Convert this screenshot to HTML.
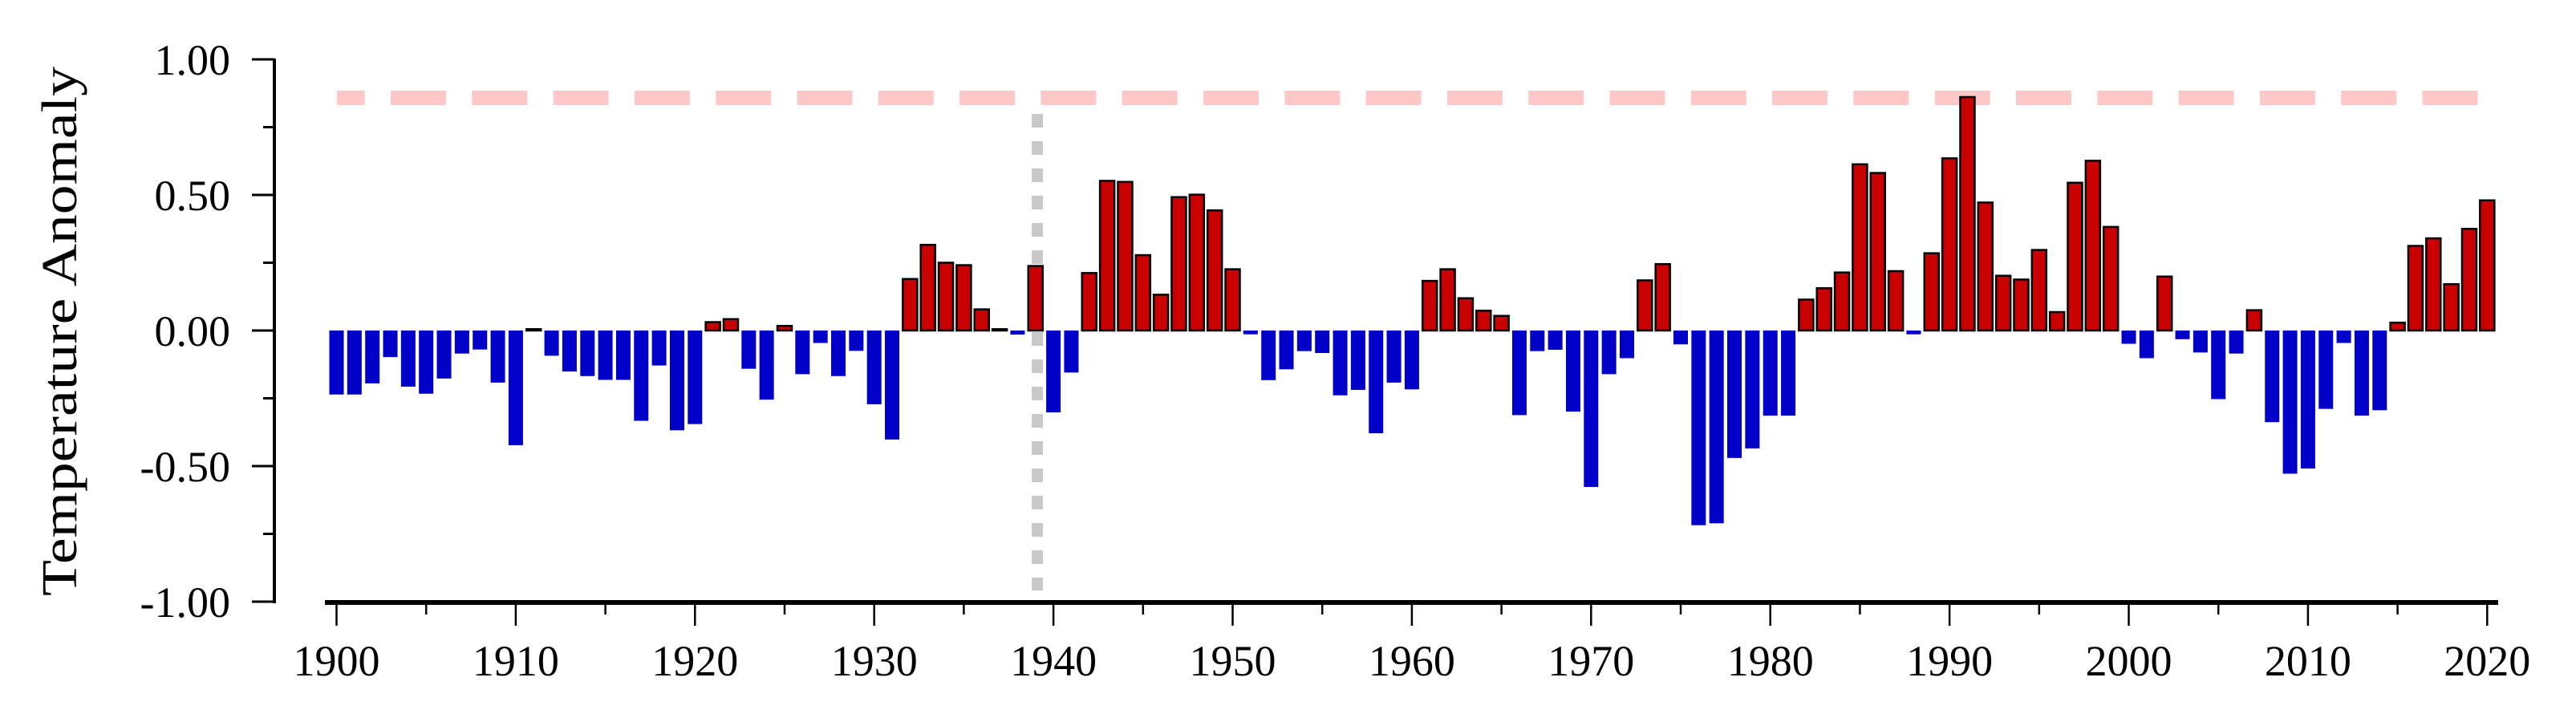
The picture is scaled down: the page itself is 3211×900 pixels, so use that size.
<!DOCTYPE html>
<html><head><meta charset="utf-8"><style>
html,body{margin:0;padding:0;background:#fff;}
svg{display:block;font-family:"Liberation Serif",serif;}
</style></head><body>
<svg id="chart" width="3211" height="900" viewBox="0 0 3211 900" xmlns="http://www.w3.org/2000/svg">
<line x1="420" y1="122" x2="3090" y2="122" stroke="#ffc8c8" stroke-width="18" stroke-dasharray="69 32.3" stroke-dashoffset="34.3"/>
<line x1="1293" y1="142" x2="1293" y2="736" stroke="#c8c8c8" stroke-width="14" stroke-dasharray="17 17"/>
<g id="bars"></g>
<g id="axes"></g>
<text transform="translate(95,413) rotate(-90)" text-anchor="middle" font-size="62" textLength="660" lengthAdjust="spacingAndGlyphs">Temperature Anomaly</text>
</svg>
<script>
const years = [];
for (let y = 1900; y <= 2020; y++) years.push(y);
const anomalies = [
-0.236,-0.236,-0.195,-0.098,-0.207,-0.233,-0.177,-0.085,-0.070,-0.192,
-0.423,0.005,-0.093,-0.151,-0.168,-0.182,-0.182,-0.333,-0.129,-0.368,
-0.345,0.031,0.042,-0.141,-0.255,0.017,-0.161,-0.046,-0.168,-0.075,
-0.272,-0.402,0.190,0.316,0.250,0.241,0.078,0.005,-0.015,0.238,
-0.302,-0.155,0.212,0.552,0.548,0.278,0.132,0.492,0.501,0.443,
0.226,-0.014,-0.183,-0.143,-0.076,-0.083,-0.239,-0.219,-0.379,-0.192,
-0.217,0.183,0.226,0.119,0.073,0.054,-0.312,-0.076,-0.071,-0.299,
-0.577,-0.161,-0.102,0.185,0.245,-0.051,-0.718,-0.711,-0.470,-0.435,
-0.314,-0.314,0.114,0.156,0.214,0.613,0.581,0.219,-0.014,0.285,
0.635,0.861,0.472,0.202,0.188,0.297,0.068,0.545,0.626,0.382,
-0.049,-0.102,0.199,-0.032,-0.081,-0.253,-0.085,0.075,-0.338,-0.528,
-0.509,-0.289,-0.046,-0.314,-0.294,0.029,0.312,0.340,0.171,0.375,
0.480];
const yTicks = [1.00, 0.50, 0.00, -0.50, -1.00];
const yTickLabels = ["1.00","0.50","0.00","-0.50","-1.00"];
const xTickYears = [1900,1910,1920,1930,1940,1950,1960,1970,1980,1990,2000,2010,2020];

const NS = "http://www.w3.org/2000/svg";
function xScale(yr){ return 419.5 + (yr - 1900) * 22.34; }
function yScale(v){ return 412 - v * 338; }
function mk(tag, attrs, parent){ const e = document.createElementNS(NS, tag); for (const k in attrs) e.setAttribute(k, attrs[k]); parent.appendChild(e); return e; }

const bars = document.getElementById('bars');
years.forEach((yr, i) => {
  const v = anomalies[i];
  const x = xScale(yr) - 9;
  const y0 = yScale(0), y1 = yScale(v);
  const r = mk('rect', {x: x, y: Math.min(y0, y1), width: 18, height: Math.max(Math.abs(y1 - y0), 1),
    fill: v >= 0 ? '#c80000' : '#0000c8', stroke: v >= 0 ? '#000' : 'none', 'stroke-width': 2.5}, bars);
  
  
});

const axes = document.getElementById('axes');
const ya = mk('line', {x1: 342, y1: yScale(1) - 1, x2: 342, y2: yScale(-1) + 2, stroke: '#000', 'stroke-width': 4}, axes);


const xa = mk('line', {x1: 405, y1: 751, x2: 3114, y2: 751, stroke: '#000', 'stroke-width': 6}, axes);


yTicks.forEach((v, i) => {
  const t = mk('line', {x1: 314, y1: yScale(v), x2: 342, y2: yScale(v), stroke: '#000', 'stroke-width': 3}, axes);
  
  
  const l = mk('text', {x: 287, y: yScale(v) + 19, 'text-anchor': 'end', 'font-size': 54}, axes);
  l.textContent = yTickLabels[i];
  
  
  if (i < yTicks.length - 1) {
    const m = mk('line', {x1: 328, y1: yScale(v - 0.25), x2: 342, y2: yScale(v - 0.25), stroke: '#000', 'stroke-width': 3}, axes);
    
    
  }
});
xTickYears.forEach(yr => {
  const t = mk('line', {x1: xScale(yr), y1: 751, x2: xScale(yr), y2: 780, stroke: '#000', 'stroke-width': 2.5}, axes);
  
  
  const l = mk('text', {x: xScale(yr), y: 842, 'text-anchor': 'middle', 'font-size': 54}, axes);
  l.textContent = String(yr);
  
  
  if (yr < 2020) {
    const m = mk('line', {x1: xScale(yr + 5), y1: 751, x2: xScale(yr + 5), y2: 766, stroke: '#000', 'stroke-width': 2.5}, axes);
    
    
  }
});
</script>
</body></html>
